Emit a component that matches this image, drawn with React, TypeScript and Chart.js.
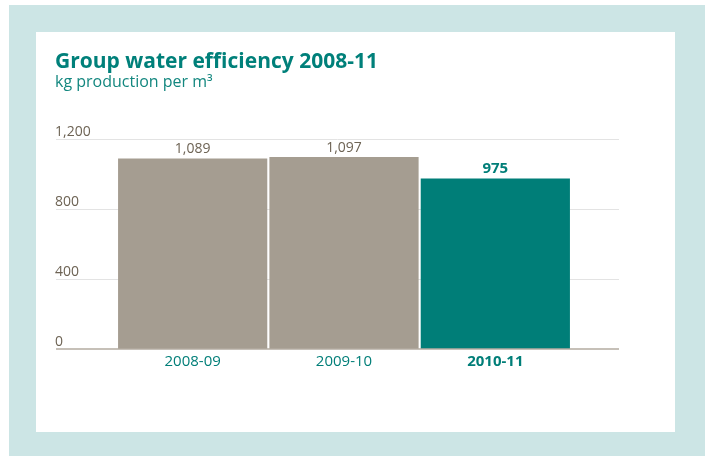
import React, { useEffect, useRef } from "react";
import { Chart, registerables } from "chart.js";

Chart.register(...registerables);

const categories = ["2008-09", "2009-10", "2010-11"];
const values = [1089, 1097, 975];
const valueLabels = ["1,089", "1,097", "975"];
const highlighted = [false, false, true];
const yTicks = [0, 400, 800, 1200];
const yTickLabels = ["0", "400", "800", "1,200"];
const titleText = "Group water efficiency 2008-11";
const subtitleText = "kg production per m³";

const GREY = "#a59d91";
const TEAL = "#007e78";
const TEXT_GREY = "#6d6354";
const FONT = "'Open Sans', sans-serif";

const decorPlugin = {
  id: "decor",
  beforeDatasetsDraw(chart: any) {
    const ctx = chart.ctx;
    const y = chart.scales.y;
    ctx.save();
    ctx.strokeStyle = "#e3e3e3";
    ctx.lineWidth = 1;
    yTicks.forEach((t) => {
      if (t === 0) return;
      const py = Math.round(y.getPixelForValue(t)) + 0.5;
      ctx.beginPath();
      ctx.moveTo(56, py);
      ctx.lineTo(619, py);
      ctx.stroke();
    });
    ctx.restore();
  },
  afterDatasetsDraw(chart: any) {
    const ctx = chart.ctx;
    const y = chart.scales.y;
    const meta = chart.getDatasetMeta(0);
    ctx.save();
    const by = y.getPixelForValue(0);
    ctx.strokeStyle = "#b3aba0";
    ctx.lineWidth = 1.5;
    ctx.beginPath();
    ctx.moveTo(56, by);
    ctx.lineTo(619, by);
    ctx.stroke();
    ctx.fillStyle = TEXT_GREY;
    ctx.font = `14px ${FONT}`;
    ctx.textAlign = "left";
    ctx.textBaseline = "alphabetic";
    yTicks.forEach((t, i) => {
      const py = y.getPixelForValue(t);
      ctx.fillText(yTickLabels[i], 55, py - 3);
    });
    meta.data.forEach((bar: any, i: number) => {
      ctx.textAlign = "center";
      ctx.fillStyle = highlighted[i] ? TEAL : TEXT_GREY;
      ctx.font = highlighted[i] ? `bold 15px ${FONT}` : `14px ${FONT}`;
      ctx.fillText(valueLabels[i], bar.x, bar.y - 5);
      ctx.fillStyle = TEAL;
      ctx.font = highlighted[i] ? `bold 15px ${FONT}` : `15px ${FONT}`;
      ctx.fillText(categories[i], bar.x, by + 17);
    });
    ctx.textAlign = "left";
    ctx.fillStyle = "#00807a";
    ctx.font = `bold 21px ${FONT}`;
    ctx.fillText(titleText, 55, 68);
    ctx.fillStyle = "#13877f";
    ctx.font = `16px ${FONT}`;
    ctx.fillText(subtitleText, 55, 87);
    ctx.restore();
  },
};

export default function App() {
  const ref = useRef<HTMLCanvasElement>(null);
  useEffect(() => {
    if (!ref.current) return;
    const chart = new Chart(ref.current, {
      type: "bar",
      data: {
        labels: categories,
        datasets: [
          {
            data: values,
            backgroundColor: highlighted.map((h) => (h ? TEAL : GREY)),
            borderWidth: 0,
            barPercentage: 0.986,
            categoryPercentage: 1,
          },
        ],
      },
      options: {
        animation: false,
        responsive: false,
        maintainAspectRatio: false,
        layout: { padding: { left: 117, right: 134, top: 139, bottom: 107 } },
        plugins: { legend: { display: false }, tooltip: { enabled: false } },
        scales: {
          x: { display: false },
          y: { display: false, min: 0, max: 1200 },
        },
      },
      plugins: [decorPlugin],
    });
    return () => chart.destroy();
  }, []);
  return (
    <div style={{ position: "fixed", left: 0, top: 0, width: 705, height: 456, background: "#fff" }}>
      <div style={{ position: "absolute", left: 9, top: 5, width: 696, height: 451, background: "#cce5e5" }} />
      <div style={{ position: "absolute", left: 36, top: 32, width: 639, height: 400, background: "#fff" }} />
      <canvas ref={ref} width={705} height={456} style={{ position: "absolute", left: 0, top: 0 }} />
    </div>
  );
}
